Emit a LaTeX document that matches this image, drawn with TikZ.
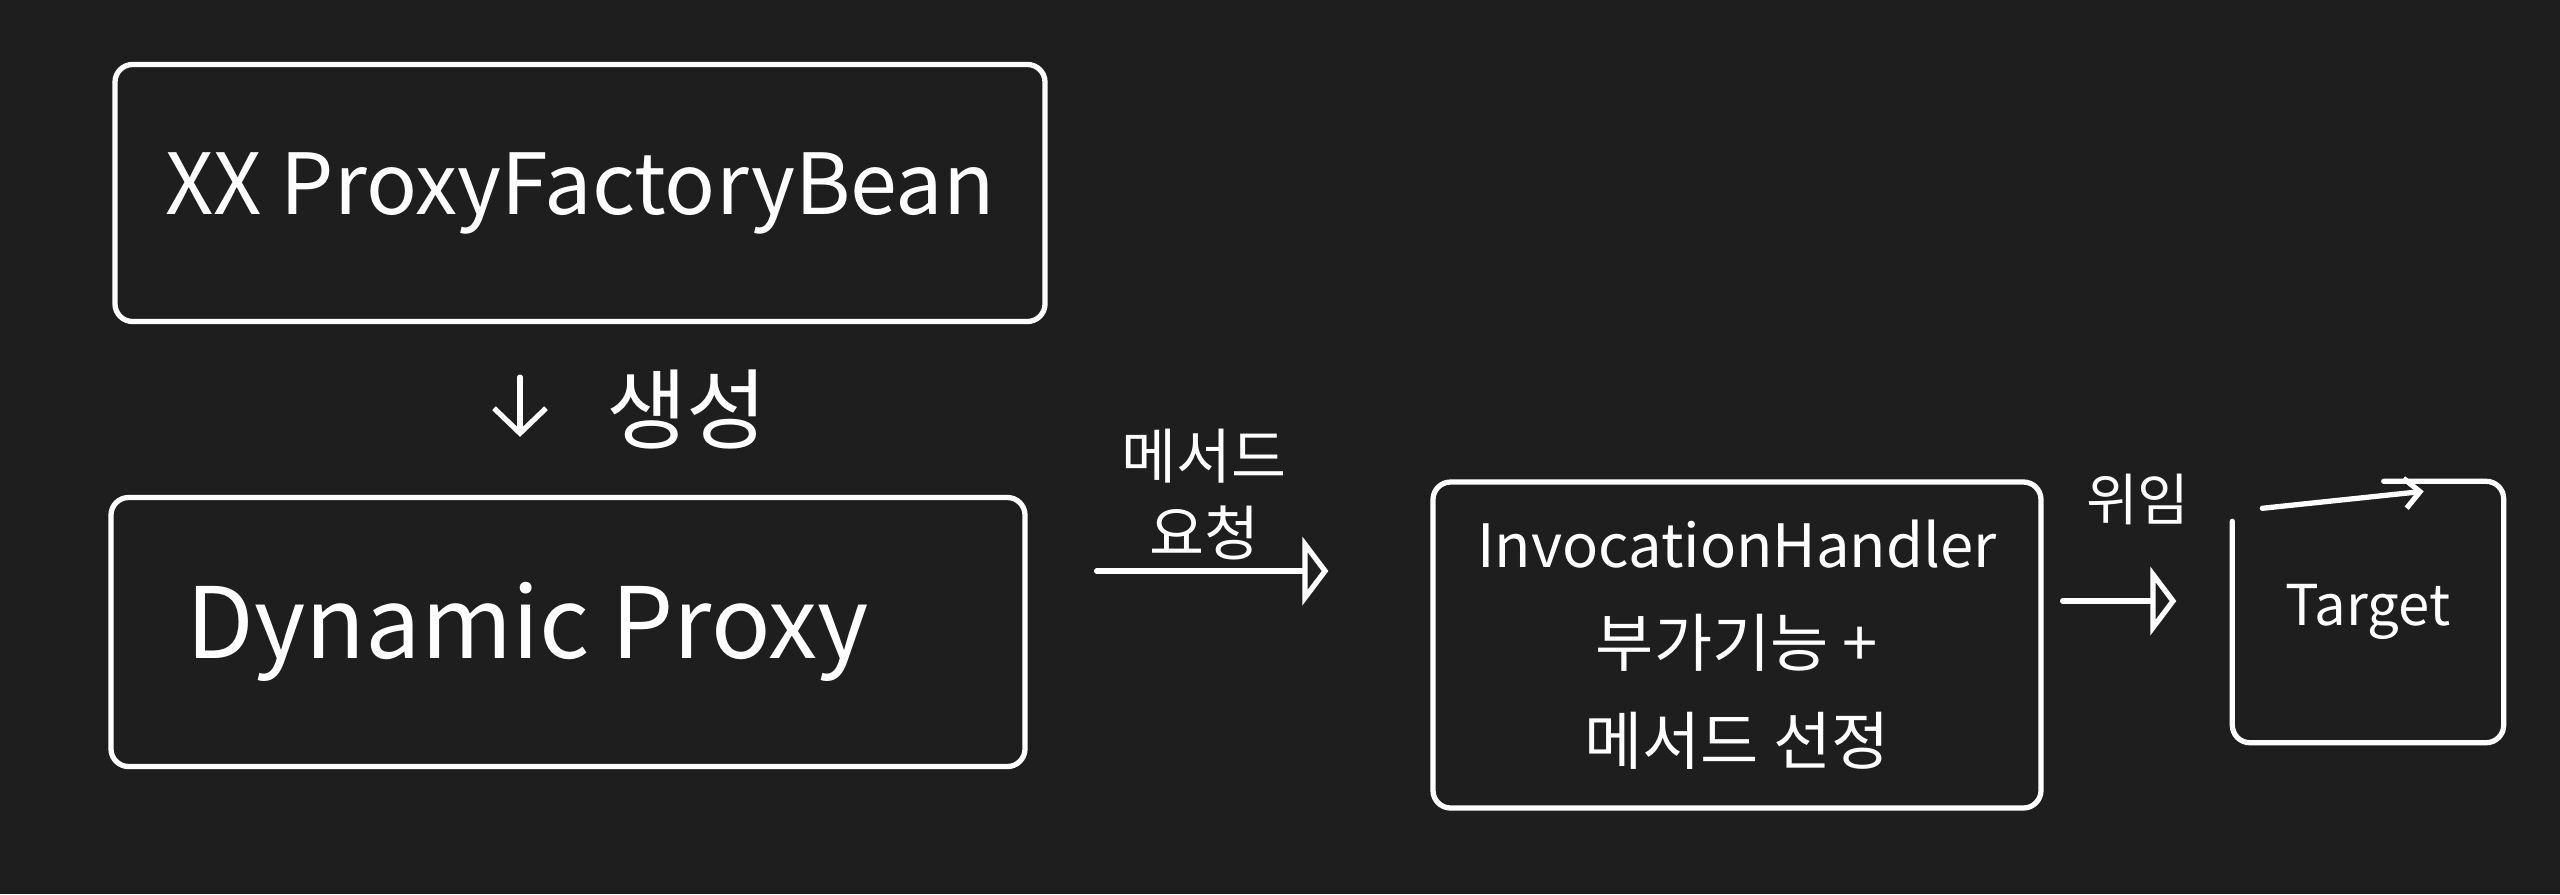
\documentclass[tikz,border=0pt]{standalone}
\usepackage{fontspec}
\setmainfont{Noto Sans CJK KR}
\usetikzlibrary{arrows.meta, positioning}
\definecolor{board}{RGB}{30,30,30}
\tikzstyle{chalk} = [draw=white, line width=1.5pt, line cap=round, line join=round]
\tikzstyle{box} = [rectangle, rounded corners=5pt, chalk, text=white, align=center]
\tikzstyle{note} = [text=white, align=center, inner sep=1pt]
\tikzstyle{arrow} = [chalk, -{Straight Barb[length=2.5mm, width=5.2mm]}]
\tikzstyle{openarrow} = [chalk, -{Triangle[open, length=2.6mm, width=6.8mm]}]
\begin{document}
\begin{tikzpicture}
		\fill[board] (0,0) rectangle (25.6,-8.94);
		\node (factory) [box, minimum width=9.3cm, minimum height=2.57cm, font=\fontsize{24}{28}\selectfont] at (5.80,-1.93) {XX ProxyFactoryBean};
		\node (proxy) [box, minimum width=9.14cm, minimum height=2.69cm, font=\fontsize{28}{32}\selectfont] at (5.68,-6.32) {\hspace*{-8mm}Dynamic Proxy};
		\node (handler) [box, minimum width=6.08cm, minimum height=3.26cm, font=\fontsize{18}{28}\selectfont] at (17.37,-6.45) {{\fontsize{17}{28}\selectfont InvocationHandler}\\부가기능 +\\메서드 선정};
		\node (target) [note, minimum width=2.7cm, minimum height=2.6cm, font=\fontsize{16}{18}\selectfont] at (23.68,-6.12) {Target};
		% target outline, open at the top left
		\draw [chalk, rounded corners=5pt] ([yshift=-4mm]target.north west) -- (target.south west) -- (target.south east) -- (target.north east) -- ([xshift=-1.2cm]target.north east);
		\draw [chalk, -{Straight Barb[length=1.5mm, width=3mm]}] ([xshift=3mm, yshift=-2.7mm]target.north west) -- ([xshift=-8mm, yshift=-1mm]target.north east);
		% connectors
		\draw [arrow, shorten <=5.3mm, shorten >=5.8mm] ([xshift=-6mm]factory.south) -- ([xshift=-6mm]factory.south |- proxy.north) node [note, midway, right=8mm, font=\fontsize{25}{28}\selectfont] (made) {생성};
		\draw [openarrow, shorten <=6.9mm, shorten >=10.2mm] ([yshift=6.1mm]proxy.east) -- ([yshift=6.1mm]proxy.east -| handler.west) node [note, midway, above=0.5mm, xshift=-2.5mm, font=\fontsize{17}{22}\selectfont] (call) {메서드\\요청};
		\draw [openarrow, shorten <=1.9mm, shorten >=5.6mm] ([yshift=4.4mm]handler.east) -- ([yshift=4.4mm]handler.east -| target.west) node [note, midway, above=7mm, font=\fontsize{16}{20}\selectfont] (pass) {위임};
	\end{tikzpicture}
\end{document}
